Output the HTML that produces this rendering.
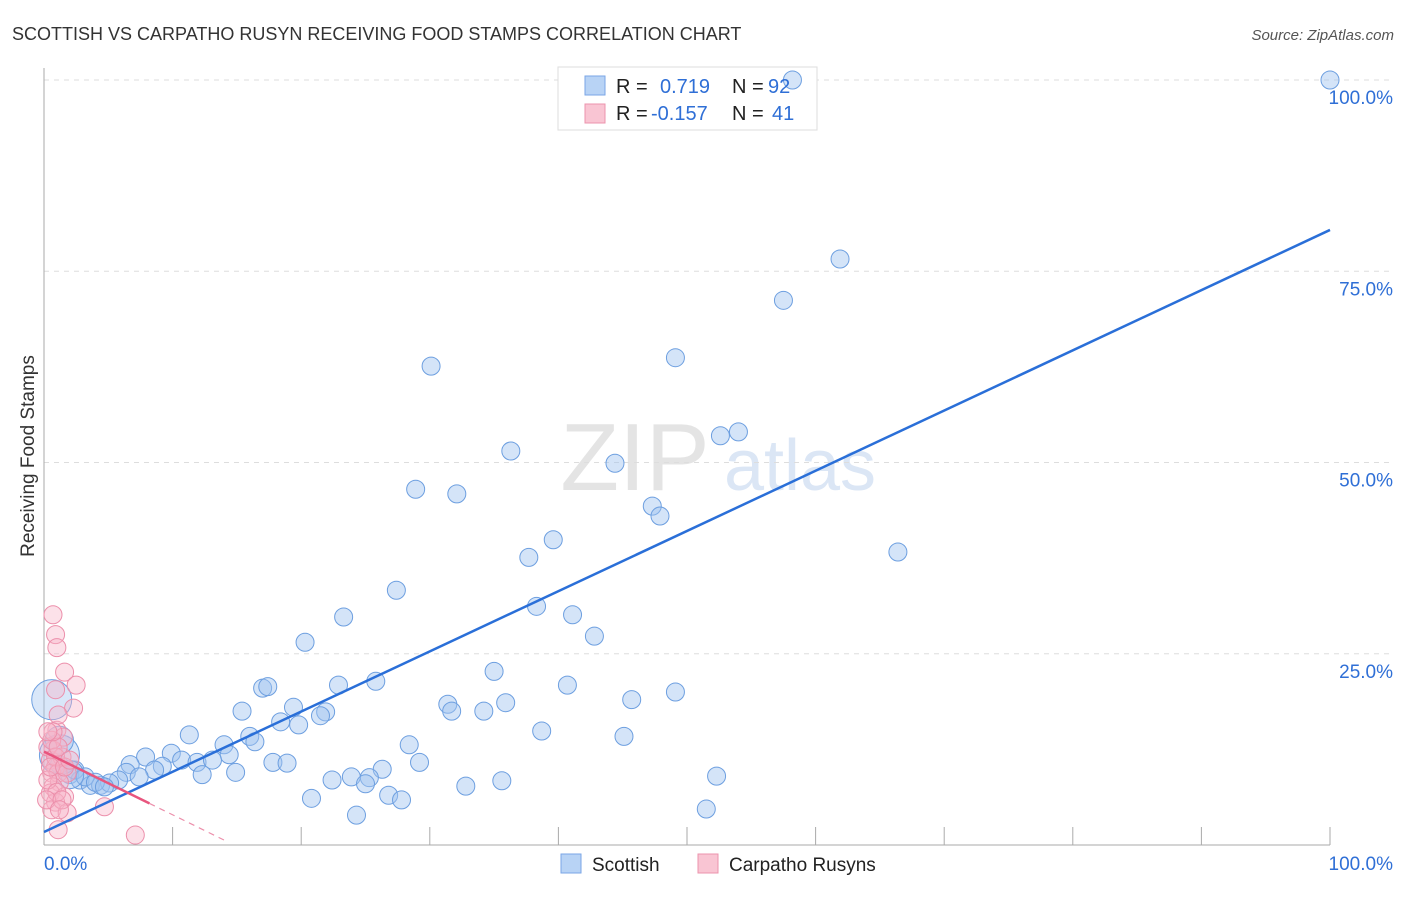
<!DOCTYPE html>
<html><head><meta charset="utf-8"><style>
body{margin:0;background:#fff;font-family:"Liberation Sans",sans-serif}
svg text{font-family:"Liberation Sans",sans-serif}
</style></head><body>
<svg id="c" width="1406" height="892">
<text x="12" y="40" font-size="18" fill="#333">SCOTTISH VS CARPATHO RUSYN RECEIVING FOOD STAMPS CORRELATION CHART</text>
<text x="1394" y="40" font-size="15" fill="#555" font-style="italic" text-anchor="end">Source: ZipAtlas.com</text>
<text transform="translate(34,456) rotate(-90)" font-size="19" fill="#333" text-anchor="middle">Receiving Food Stamps</text>
<g><text x="635" y="490" font-size="96" fill="#e4e4e4" font-family="Liberation Serif" text-anchor="middle">ZIP</text><text x="800" y="490" font-size="72" fill="#dbe6f5" text-anchor="middle">atlas</text></g>
<g id="grid"></g>
<rect x="558" y="67" width="259" height="63" fill="#fff" stroke="#ddd"/>
<g id="pts"></g><g id="lines"></g>
<g>
<rect x="585" y="76" width="20" height="19" fill="#b8d3f5" stroke="#7aa6e6"/>
<rect x="585" y="104" width="20" height="19" fill="#f9c5d3" stroke="#ec93ad"/>
<text x="616" y="93" font-size="20" fill="#222">R =</text><text x="660" y="93" font-size="20" fill="#2f6fd6">0.719</text>
<text x="732" y="93" font-size="20" fill="#222">N =</text><text x="768" y="93" font-size="20" fill="#2f6fd6">92</text>
<text x="616" y="120" font-size="20" fill="#222">R =</text><text x="651" y="120" font-size="20" fill="#2f6fd6">-0.157</text>
<text x="732" y="120" font-size="20" fill="#222">N =</text><text x="772" y="120" font-size="20" fill="#2f6fd6">41</text>
</g>
<g>
<rect x="561" y="854" width="20" height="19" fill="#b8d3f5" stroke="#7aa6e6"/>
<text x="592" y="871" font-size="19" fill="#222">Scottish</text>
<rect x="698" y="854" width="20" height="19" fill="#f9c5d3" stroke="#ec93ad"/>
<text x="729" y="871" font-size="19" fill="#222">Carpatho Rusyns</text>
</g>
</svg>
<script>
const yTicks=[25,50,75,100];
const yTickLabels=["25.0%","50.0%","75.0%","100.0%"];
const xTicks=[10,20,30,40,50,60,70,80,90,100];
const blueX=[100,58.2,61.9,57.5,30.1,49.1,54.0,52.6,36.3,44.4,28.9,32.1,47.3,47.9,66.4,39.6,37.7,27.4,38.3,41.1,23.3,42.8,20.3,35.0,25.8,22.9,40.7,17.0,17.4,49.1,45.7,31.4,31.7,35.9,34.2,19.4,15.4,21.9,21.5,18.4,19.8,38.7,45.1,11.3,16.0,16.4,14.0,28.4,14.4,7.9,9.9,6.7,10.7,11.9,13.1,17.8,18.9,29.2,26.3,9.2,8.6,6.4,14.9,12.3,7.4,23.9,25.3,22.4,25.0,52.3,5.8,35.6,32.8,26.8,27.8,20.8,51.5,24.3,1.2,2.0,2.8,3.6,4.4,5.1,2.4,3.2,4.0,4.7];
const blueY=[100,100,76.6,71.2,62.6,63.7,54.0,53.5,51.5,49.9,46.5,45.9,44.3,43.0,38.3,39.9,37.6,33.3,31.2,30.1,29.8,27.3,26.5,22.7,21.4,20.9,20.9,20.5,20.7,20.0,19.0,18.4,17.5,18.6,17.5,18.0,17.5,17.4,16.9,16.1,15.7,14.9,14.2,14.4,14.2,13.5,13.1,13.1,11.8,11.5,12.0,10.5,11.1,10.8,11.1,10.8,10.7,10.8,9.9,10.3,9.8,9.5,9.5,9.2,8.9,8.9,8.8,8.5,8.0,9.0,8.5,8.4,7.7,6.5,5.9,6.1,4.7,3.9,10.5,9.2,8.5,7.8,7.8,8.1,9.8,8.9,8.2,7.6];
const bigX=[0.6,1.2,1.2,2.0];
const bigY=[19.0,11.8,13.7,9.2];
const bigR=[20,20,14,14];
const pinkX=[0.7,0.9,1.0,1.6,2.5,2.3,0.9,1.0,1.1,1.5,0.7,0.5,0.9,0.6,1.1,1.8,1.2,0.7,0.5,1.6,0.9,0.6,1.8,1.1,4.7,7.1,0.3,0.6,1.4,0.9,0.3,1.0,0.2,1.4,0.5,1.6,1.1,0.7,0.3,1.2,2.0];
const pinkY=[30.1,27.5,25.8,22.6,20.9,17.9,20.3,15.0,17.0,14.1,12.4,11.1,10.2,9.4,9.4,9.4,8.2,7.6,6.8,6.3,5.6,4.6,4.2,2.0,5.0,1.3,12.8,13.7,11.5,11.5,8.5,6.9,5.9,5.9,10.2,10.2,12.8,14.8,14.8,4.6,11.1];
const blueLine=[1.7,80.4];
const pinkStart=12.2, pinkEndVal=0.4;
const pinkSolidEnd=8.2, pinkDashEnd=14.3;
const NS="http://www.w3.org/2000/svg";
const X=v=>44+v*12.86, Y=v=>845-v*7.65;
function mk(t,a,p){const e=document.createElementNS(NS,t);for(const k in a)e.setAttribute(k,a[k]);p.appendChild(e);return e;}
const grid=document.getElementById('grid');
yTicks.forEach((t,i)=>{
 const l=mk('line',{x1:44,x2:1392,y1:Y(t),y2:Y(t),stroke:'#ddd','stroke-dasharray':'5,5'},grid);
 
 
 const tx=mk('text',{x:1393,y:Y(t)+24,'font-size':19,fill:'#2f6fd6','text-anchor':'end'},grid);tx.textContent=yTickLabels[i];
 
 
});
mk('line',{x1:44,x2:44,y1:68,y2:845,stroke:'#aaa'},grid);
mk('line',{x1:44,x2:1330,y1:845,y2:845,stroke:'#aaa'},grid);
xTicks.forEach(t=>{const l=mk('line',{x1:X(t),x2:X(t),y1:827,y2:845,stroke:'#aaa'},grid);
 
 });
let t0=mk('text',{x:44,y:870,'font-size':19,fill:'#2f6fd6'},grid);t0.textContent='0.0%';


let t1=mk('text',{x:1393,y:870,'font-size':19,fill:'#2f6fd6','text-anchor':'end'},grid);t1.textContent='100.0%';


const pts=document.getElementById('pts');
blueX.forEach((x,i)=>{const c=mk('circle',{cx:X(x),cy:Y(blueY[i]),r:9,fill:'rgba(160,196,240,0.45)',stroke:'#6d9fe0','stroke-width':1},pts);
 
 });
bigX.forEach((x,i)=>{const c=mk('circle',{cx:X(x),cy:Y(bigY[i]),r:bigR[i],fill:'rgba(160,196,240,0.4)',stroke:'#6d9fe0','stroke-width':1},pts);
 
 });
pinkX.forEach((x,i)=>{const c=mk('circle',{cx:X(x),cy:Y(pinkY[i]),r:9,fill:'rgba(248,180,200,0.4)',stroke:'#ec8fab','stroke-width':1},pts);
 
 });
const lines=document.getElementById('lines');
const bl=mk('line',{x1:X(0),y1:Y(blueLine[0]),x2:X(100),y2:Y(blueLine[1]),stroke:'#2a6fd8','stroke-width':2.5},lines);


const pSlope=(pinkEndVal-pinkStart)/pinkDashEnd;
const pl=mk('line',{x1:X(0),y1:Y(pinkStart),x2:X(pinkSolidEnd),y2:Y(pinkStart+pSlope*pinkSolidEnd),stroke:'#e8557e','stroke-width':2.5},lines);


const pd=mk('line',{x1:X(pinkSolidEnd),y1:Y(pinkStart+pSlope*pinkSolidEnd),x2:X(pinkDashEnd),y2:Y(pinkStart+pSlope*pinkDashEnd),stroke:'#ec8fab','stroke-width':1.2,'stroke-dasharray':'6,5'},lines);


</script>
</body></html>
